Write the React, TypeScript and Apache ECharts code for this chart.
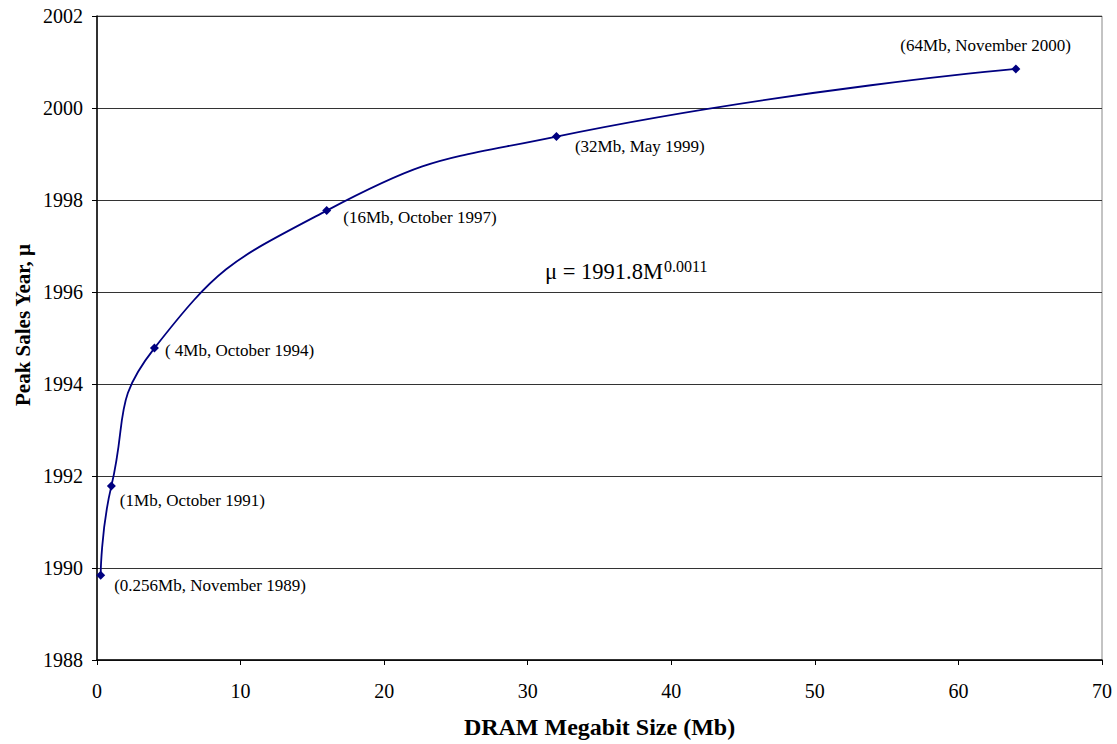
import React, { useEffect, useRef } from "react";
import * as echarts from "echarts";

const sizesMb = [0.256, 1, 4, 16, 32, 64];
const peakYears = [1989.84, 1991.78, 1994.78, 1997.77, 1999.38, 2000.85];
const pointLabels = [
  "(0.256Mb, November 1989)",
  "(1Mb, October 1991)",
  "( 4Mb, October 1994)",
  "(16Mb, October 1997)",
  "(32Mb, May 1999)",
  "(64Mb, November 2000)",
];
const labelOffsets: [number, number][] = [
  [9, 10],
  [4, 14],
  [6, 2],
  [12, 7],
  [14, 10],
  [-120, -23],
];

const FONT = "Liberation Serif";

export default function App() {
  const ref = useRef<HTMLDivElement>(null);
  useEffect(() => {
    if (!ref.current) return;
    const chart = echarts.init(ref.current, undefined, { renderer: "svg" });
    const data = sizesMb.map((x, i) => ({
      value: [x, peakYears[i]],
      label: {
        show: true,
        formatter: pointLabels[i],
        position: "right",
        distance: 0,
        offset: labelOffsets[i],
        fontFamily: FONT,
        fontSize: 17,
        color: "#000",
      },
    }));
    chart.setOption({
      animation: false,
      textStyle: { fontFamily: FONT },
      grid: {
        left: 97,
        right: 15,
        top: 16,
        bottom: 84,
        show: true,
        borderColor: "#888",
        borderWidth: 1,
      },
      xAxis: {
        type: "value",
        min: 0,
        max: 70,
        interval: 10,
        name: "DRAM Megabit Size (Mb)",
        nameLocation: "middle",
        nameGap: 55,
        nameTextStyle: { fontFamily: FONT, fontSize: 24, fontWeight: "bold", color: "#000" },
        axisLine: { show: true, lineStyle: { color: "#000", width: 1.5 } },
        axisTick: { show: true, length: 5, lineStyle: { color: "#000" } },
        axisLabel: { fontFamily: FONT, fontSize: 20, color: "#000", margin: 21, formatter: (v: number) => String(v) },
        splitLine: { show: false },
      },
      yAxis: {
        type: "value",
        min: 1988,
        max: 2002,
        interval: 2,
        axisLine: { show: true, lineStyle: { color: "#000", width: 1.5 } },
        axisTick: { show: true, length: 5, lineStyle: { color: "#000" } },
        axisLabel: { fontFamily: FONT, fontSize: 20, color: "#000", margin: 14, formatter: (v: number) => String(v) },
        splitLine: { show: true, lineStyle: { color: "#333", width: 1 } },
      },
      series: [
        {
          type: "line",
          data,
          smooth: 0.5,
          symbol: "diamond",
          symbolSize: 9,
          lineStyle: { color: "#000080", width: 1.8 },
          itemStyle: { color: "#000080" },
        },
      ],
      graphic: [
        {
          type: "text",
          x: 23,
          y: 325,
          rotation: Math.PI / 2,
          style: {
            text: "Peak Sales Year, μ",
            fontFamily: FONT,
            fontSize: 21,
            fontWeight: "bold",
            fill: "#000",
            align: "center",
            verticalAlign: "middle",
          },
        },
        {
          type: "text",
          left: 545,
          top: 260,
          style: { text: "μ = 1991.8M", fontFamily: FONT, fontSize: 22.5, fill: "#000" },
        },
        {
          type: "text",
          left: 664,
          top: 258,
          style: { text: "0.0011", fontFamily: FONT, fontSize: 16, fill: "#000" },
        },
      ],
    });
    return () => chart.dispose();
  }, []);
  return (
    <div
      ref={ref}
      style={{ position: "absolute", left: 0, top: 0, width: 1117, height: 744 }}
    />
  );
}
